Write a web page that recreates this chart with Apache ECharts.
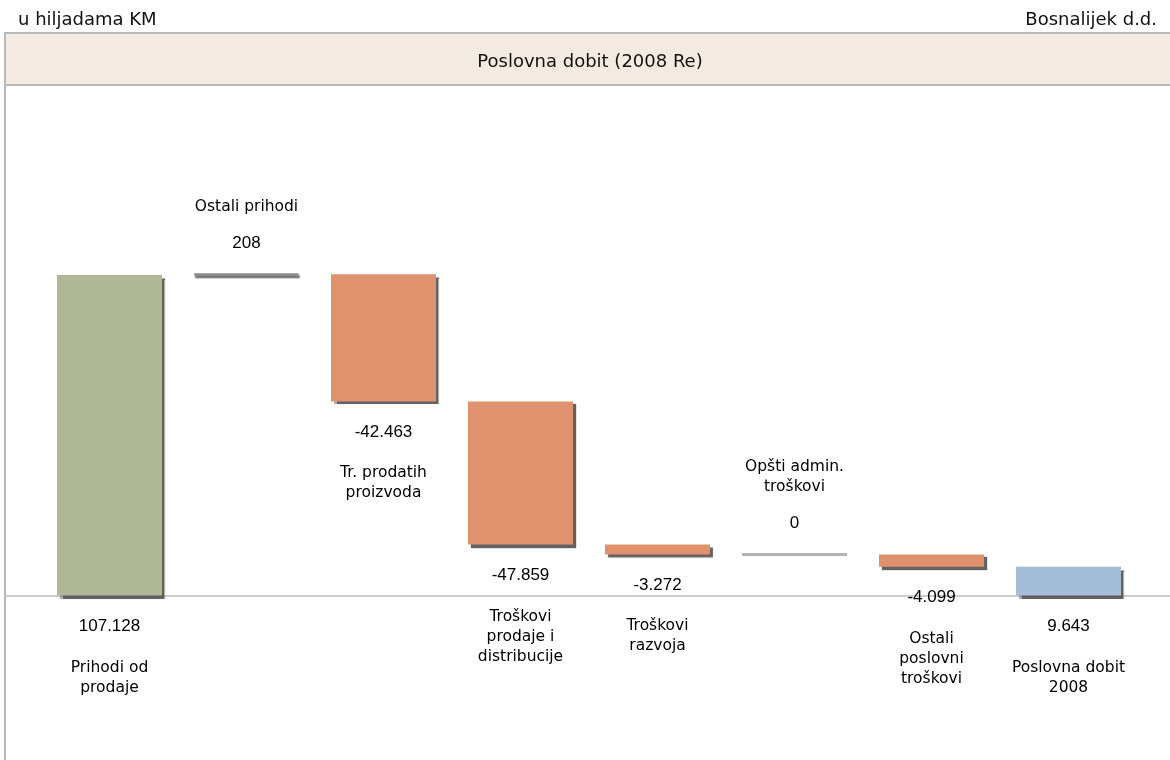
<!DOCTYPE html>
<html>
<head>
<meta charset="utf-8">
<script src="https://cdn.jsdelivr.net/npm/echarts@6/dist/echarts.min.js"></script>
<style>
html,body{margin:0;padding:0;background:#fff;}
#chart{width:1170px;height:760px;}
</style>
</head>
<body>
<div id="chart"></div>
<script>
// ---- data ----
const categories = [
  'Prihodi od\nprodaje',
  'Ostali prihodi',
  'Tr. prodatih\nproizvoda',
  'Troškovi\nprodaje i\ndistribucije',
  'Troškovi\nrazvoja',
  'Opšti admin.\ntroškovi',
  'Ostali\nposlovni\ntroškovi',
  'Poslovna dobit\n2008'
];
const values = [107128, 208, -42463, -47859, -3272, 0, -4099, 9643]; // u hiljadama KM
const isTotal = [true, false, false, false, false, false, false, true];
const headerLeft = 'u hiljadama KM';
const headerRight = 'Bosnalijek d.d.';
const chartTitle = 'Poslovna dobit (2008 Re)';

// ---- styles ----
const palette = {
  firstTotal: '#b0b795',
  lastTotal: '#a3bed6',
  negative: '#e0926f',
  positive: '#8a8a8a',
  zero: '#b4b4b4'
};

function fmt(v) {
  const s = String(Math.abs(v)).replace(/\B(?=(\d{3})+(?!\d))/g, '.');
  return (v < 0 ? '-' : '') + s;
}

// waterfall layout derived from data
const baseData = [];
const visData = [];
let run = 0;
values.forEach((v, i) => {
  const nameLines = categories[i].split('\n').map(l => '{n|' + l + '}').join('\n');
  let color, pos, formatter, distance;
  if (isTotal[i]) {
    baseData.push(0);
    run = v;
    color = i === 0 ? palette.firstTotal : palette.lastTotal;
    pos = 'bottom';
  } else {
    const before = run, after = run + v;
    baseData.push(Math.min(before, after));
    run = after;
    if (v < 0) { color = palette.negative; pos = 'bottom'; }
    else if (v > 0) { color = palette.positive; pos = 'top'; }
    else { color = palette.zero; pos = 'top'; }
  }
  const thin = !isTotal[i] && v >= 0;
  if (pos === 'bottom') {
    formatter = '{v|' + fmt(v) + '}\n{s| }\n' + nameLines;
    distance = 20;
  } else {
    formatter = nameLines + '\n{s2| }\n{v|' + fmt(v) + '}';
    distance = 19;
  }
  visData.push({
    value: isTotal[i] ? v : Math.abs(v),
    itemStyle: thin ? {
      color: color,
      borderColor: color,
      borderWidth: 3,
      shadowColor: v > 0 ? 'rgba(80,80,80,0.8)' : 'rgba(0,0,0,0)',
      shadowOffsetX: 1, shadowOffsetY: 2, shadowBlur: 1
    } : {
      color: color,
      borderWidth: 0,
      shadowColor: 'rgba(70,70,70,0.85)',
      shadowOffsetX: 3, shadowOffsetY: 3, shadowBlur: 1
    },
    label: { show: true, position: pos, distance: distance, formatter: formatter }
  });
});

const chart = echarts.init(document.getElementById('chart'), null, { renderer: 'canvas' });

const yMin = -50000, yMax = 150000;
const gridTop = 146.7, gridHeight = 598.4;

chart.setOption({
  animation: false,
  backgroundColor: '#fff',
  grid: [
    { left: 41, width: 1096, top: gridTop, height: gridHeight },
    { left: 5, width: 1165, top: gridTop, height: gridHeight }
  ],
  xAxis: [
    { type: 'category', gridIndex: 0, data: categories, axisLine: { show: false }, axisTick: { show: false }, axisLabel: { show: false } },
    { type: 'category', gridIndex: 1, data: [''], axisLine: { show: true, onZero: true, lineStyle: { color: '#bdbdbd', width: 1.5 } }, axisTick: { show: false }, axisLabel: { show: false } }
  ],
  yAxis: [
    { type: 'value', gridIndex: 0, min: yMin, max: yMax, show: false, splitLine: { show: false } },
    { type: 'value', gridIndex: 1, min: yMin, max: yMax, show: false, splitLine: { show: false } }
  ],
  series: [
    {
      type: 'bar', name: 'base', stack: 'w', xAxisIndex: 0, yAxisIndex: 0,
      barWidth: 105, silent: true,
      itemStyle: { color: 'rgba(0,0,0,0)' },
      data: baseData, z: 2
    },
    {
      type: 'bar', name: 'vrijednost', stack: 'w', xAxisIndex: 0, yAxisIndex: 0,
      barWidth: 105,
      label: {
        color: '#000',
        align: 'center',
        rich: {
          v: { fontFamily: 'Liberation Sans', fontSize: 17, lineHeight: 22, color: '#000', align: 'center' },
          n: { fontFamily: 'DejaVu Sans', fontSize: 15.5, lineHeight: 20, color: '#000', align: 'center' },
          s: { fontSize: 10, lineHeight: 20 },
          s2: { fontSize: 10, lineHeight: 15 }
        }
      },
      data: visData, z: 3
    }
  ],
  graphic: [
    {
      type: 'rect', z: -10, silent: true,
      shape: { x: 5, y: 33, width: 1175, height: 52 },
      style: { fill: '#f3ebe1', stroke: '#b8b8b8', lineWidth: 2 }
    },
    {
      type: 'line', z: -10, silent: true,
      shape: { x1: 5, y1: 33, x2: 5, y2: 760 },
      style: { stroke: '#b8b8b8', lineWidth: 2 }
    },
    {
      type: 'text', silent: true, x: 590, y: 62,
      style: { text: chartTitle, font: '18px "DejaVu Sans"', fill: '#111', align: 'center', verticalAlign: 'middle' }
    },
    {
      type: 'text', silent: true, x: 18, y: 20.5,
      style: { text: headerLeft, font: '18px "DejaVu Sans"', fill: '#111', align: 'left', verticalAlign: 'middle' }
    },
    {
      type: 'text', silent: true, x: 1157, y: 20.5,
      style: { text: headerRight, font: '18px "DejaVu Sans"', fill: '#111', align: 'right', verticalAlign: 'middle' }
    }
  ]
});
</script>
</body>
</html>
